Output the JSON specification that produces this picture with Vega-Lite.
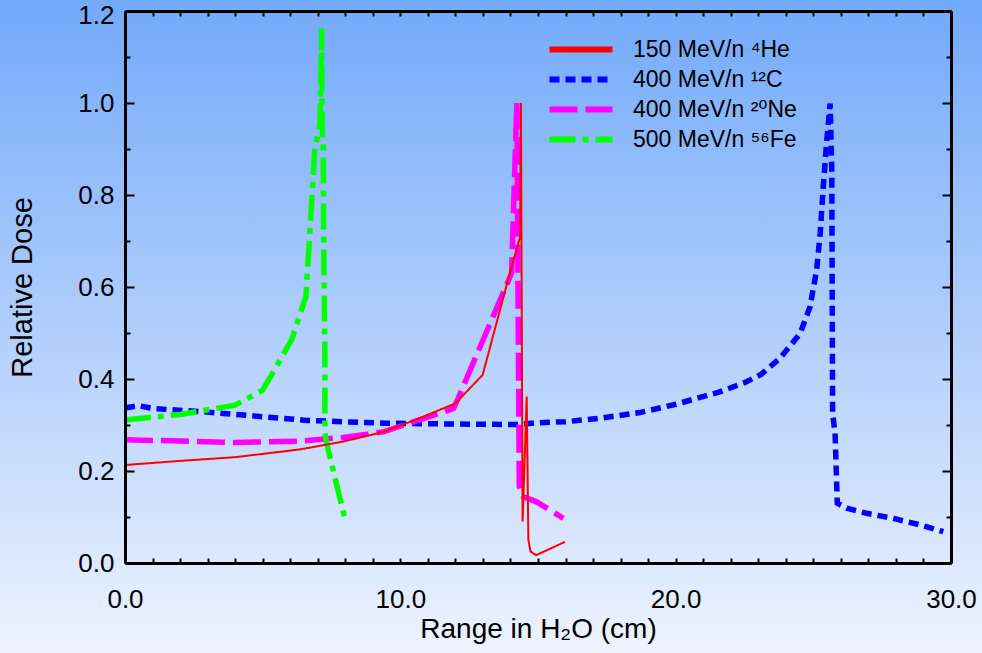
{
  "$schema": "https://vega.github.io/schema/vega-lite/v6.json",
  "width": 826,
  "height": 552,
  "autosize": {"type": "none"},
  "padding": {"left": 125, "top": 11, "right": 31, "bottom": 90},
  "background": "#eef3fe",
  "config": {
    "view": {"stroke": null},
    "font": "Liberation Sans",
    "axis": {
      "grid": false,
      "domainColor": "black",
      "domainWidth": 3,
      "tickColor": "black",
      "tickWidth": 2,
      "labelFont": "Liberation Sans",
      "labelFontSize": 26,
      "labelColor": "black",
      "titleFont": "Liberation Sans",
      "titleFontSize": 28,
      "titleFontWeight": "normal",
      "titleColor": "black"
    }
  },
  "datasets": {
    "doses": [
      {"ion": "150 MeV/n ⁴He", "i": 0, "x": 0, "y": 0.213},
      {"ion": "150 MeV/n ⁴He", "i": 1, "x": 2, "y": 0.222},
      {"ion": "150 MeV/n ⁴He", "i": 2, "x": 4, "y": 0.23},
      {"ion": "150 MeV/n ⁴He", "i": 3, "x": 6.36, "y": 0.247},
      {"ion": "150 MeV/n ⁴He", "i": 4, "x": 7.93, "y": 0.264},
      {"ion": "150 MeV/n ⁴He", "i": 5, "x": 9.38, "y": 0.285},
      {"ion": "150 MeV/n ⁴He", "i": 6, "x": 10.71, "y": 0.315},
      {"ion": "150 MeV/n ⁴He", "i": 7, "x": 12.0, "y": 0.347},
      {"ion": "150 MeV/n ⁴He", "i": 8, "x": 12.99, "y": 0.409},
      {"ion": "150 MeV/n ⁴He", "i": 9, "x": 14.04, "y": 0.644},
      {"ion": "150 MeV/n ⁴He", "i": 10, "x": 14.35, "y": 0.709},
      {"ion": "150 MeV/n ⁴He", "i": 11, "x": 14.38, "y": 1.0},
      {"ion": "150 MeV/n ⁴He", "i": 12, "x": 14.44, "y": 0.09},
      {"ion": "150 MeV/n ⁴He", "i": 13, "x": 14.59, "y": 0.362},
      {"ion": "150 MeV/n ⁴He", "i": 14, "x": 14.65, "y": 0.05},
      {"ion": "150 MeV/n ⁴He", "i": 15, "x": 14.73, "y": 0.025},
      {"ion": "150 MeV/n ⁴He", "i": 16, "x": 14.93, "y": 0.017},
      {"ion": "150 MeV/n ⁴He", "i": 17, "x": 15.98, "y": 0.046},

      {"ion": "400 MeV/n ¹²C", "i": 0, "x": 0, "y": 0.337},
      {"ion": "400 MeV/n ¹²C", "i": 1, "x": 0.5, "y": 0.342},
      {"ion": "400 MeV/n ¹²C", "i": 2, "x": 1, "y": 0.336},
      {"ion": "400 MeV/n ¹²C", "i": 3, "x": 3, "y": 0.328},
      {"ion": "400 MeV/n ¹²C", "i": 4, "x": 5, "y": 0.318},
      {"ion": "400 MeV/n ¹²C", "i": 5, "x": 6.6, "y": 0.31},
      {"ion": "400 MeV/n ¹²C", "i": 6, "x": 9.4, "y": 0.304},
      {"ion": "400 MeV/n ¹²C", "i": 7, "x": 12, "y": 0.302},
      {"ion": "400 MeV/n ¹²C", "i": 8, "x": 14.3, "y": 0.301},
      {"ion": "400 MeV/n ¹²C", "i": 9, "x": 15, "y": 0.305},
      {"ion": "400 MeV/n ¹²C", "i": 10, "x": 16, "y": 0.307},
      {"ion": "400 MeV/n ¹²C", "i": 11, "x": 17.3, "y": 0.315},
      {"ion": "400 MeV/n ¹²C", "i": 12, "x": 18.7, "y": 0.327},
      {"ion": "400 MeV/n ¹²C", "i": 13, "x": 20, "y": 0.345},
      {"ion": "400 MeV/n ¹²C", "i": 14, "x": 21.6, "y": 0.372},
      {"ion": "400 MeV/n ¹²C", "i": 15, "x": 22.5, "y": 0.392},
      {"ion": "400 MeV/n ¹²C", "i": 16, "x": 23.1, "y": 0.41},
      {"ion": "400 MeV/n ¹²C", "i": 17, "x": 23.79, "y": 0.445},
      {"ion": "400 MeV/n ¹²C", "i": 18, "x": 24.52, "y": 0.499},
      {"ion": "400 MeV/n ¹²C", "i": 19, "x": 24.88, "y": 0.557},
      {"ion": "400 MeV/n ¹²C", "i": 20, "x": 25.12, "y": 0.637},
      {"ion": "400 MeV/n ¹²C", "i": 21, "x": 25.25, "y": 0.717},
      {"ion": "400 MeV/n ¹²C", "i": 22, "x": 25.36, "y": 0.818},
      {"ion": "400 MeV/n ¹²C", "i": 23, "x": 25.49, "y": 0.92},
      {"ion": "400 MeV/n ¹²C", "i": 24, "x": 25.61, "y": 0.999},
      {"ion": "400 MeV/n ¹²C", "i": 25, "x": 25.67, "y": 0.854},
      {"ion": "400 MeV/n ¹²C", "i": 26, "x": 25.7, "y": 0.325},
      {"ion": "400 MeV/n ¹²C", "i": 27, "x": 25.79, "y": 0.282},
      {"ion": "400 MeV/n ¹²C", "i": 28, "x": 25.87, "y": 0.13},
      {"ion": "400 MeV/n ¹²C", "i": 29, "x": 26.21, "y": 0.119},
      {"ion": "400 MeV/n ¹²C", "i": 30, "x": 26.94, "y": 0.108},
      {"ion": "400 MeV/n ¹²C", "i": 31, "x": 27.9, "y": 0.097},
      {"ion": "400 MeV/n ¹²C", "i": 32, "x": 28.87, "y": 0.083},
      {"ion": "400 MeV/n ¹²C", "i": 33, "x": 29.72, "y": 0.068},

      {"ion": "400 MeV/n ²⁰Ne", "i": 0, "x": 0, "y": 0.268},
      {"ion": "400 MeV/n ²⁰Ne", "i": 1, "x": 2, "y": 0.265},
      {"ion": "400 MeV/n ²⁰Ne", "i": 2, "x": 4, "y": 0.262},
      {"ion": "400 MeV/n ²⁰Ne", "i": 3, "x": 6.36, "y": 0.265},
      {"ion": "400 MeV/n ²⁰Ne", "i": 4, "x": 7.93, "y": 0.273},
      {"ion": "400 MeV/n ²⁰Ne", "i": 5, "x": 9.38, "y": 0.285},
      {"ion": "400 MeV/n ²⁰Ne", "i": 6, "x": 10.59, "y": 0.309},
      {"ion": "400 MeV/n ²⁰Ne", "i": 7, "x": 11.93, "y": 0.336},
      {"ion": "400 MeV/n ²⁰Ne", "i": 8, "x": 12.1, "y": 0.358},
      {"ion": "400 MeV/n ²⁰Ne", "i": 9, "x": 14.04, "y": 0.63},
      {"ion": "400 MeV/n ²⁰Ne", "i": 10, "x": 14.23, "y": 1.0},
      {"ion": "400 MeV/n ²⁰Ne", "i": 11, "x": 14.32, "y": 0.166},
      {"ion": "400 MeV/n ²⁰Ne", "i": 12, "x": 14.47, "y": 0.144},
      {"ion": "400 MeV/n ²⁰Ne", "i": 13, "x": 14.95, "y": 0.133},
      {"ion": "400 MeV/n ²⁰Ne", "i": 14, "x": 15.92, "y": 0.097},

      {"ion": "500 MeV/n ⁵⁶Fe", "i": 0, "x": 0, "y": 0.311},
      {"ion": "500 MeV/n ⁵⁶Fe", "i": 1, "x": 2, "y": 0.323},
      {"ion": "500 MeV/n ⁵⁶Fe", "i": 2, "x": 4, "y": 0.343},
      {"ion": "500 MeV/n ⁵⁶Fe", "i": 3, "x": 5, "y": 0.376},
      {"ion": "500 MeV/n ⁵⁶Fe", "i": 4, "x": 5.63, "y": 0.441},
      {"ion": "500 MeV/n ⁵⁶Fe", "i": 5, "x": 6.05, "y": 0.485},
      {"ion": "500 MeV/n ⁵⁶Fe", "i": 6, "x": 6.57, "y": 0.579},
      {"ion": "500 MeV/n ⁵⁶Fe", "i": 7, "x": 6.74, "y": 0.746},
      {"ion": "500 MeV/n ⁵⁶Fe", "i": 8, "x": 6.9, "y": 0.905},
      {"ion": "500 MeV/n ⁵⁶Fe", "i": 9, "x": 7.0, "y": 0.93},
      {"ion": "500 MeV/n ⁵⁶Fe", "i": 10, "x": 7.08, "y": 0.956},
      {"ion": "500 MeV/n ⁵⁶Fe", "i": 11, "x": 7.14, "y": 1.162},
      {"ion": "500 MeV/n ⁵⁶Fe", "i": 12, "x": 7.16, "y": 0.95},
      {"ion": "500 MeV/n ⁵⁶Fe", "i": 13, "x": 7.2, "y": 0.905},
      {"ion": "500 MeV/n ⁵⁶Fe", "i": 14, "x": 7.22, "y": 0.674},
      {"ion": "500 MeV/n ⁵⁶Fe", "i": 15, "x": 7.26, "y": 0.456},
      {"ion": "500 MeV/n ⁵⁶Fe", "i": 16, "x": 7.26, "y": 0.282},
      {"ion": "500 MeV/n ⁵⁶Fe", "i": 17, "x": 7.38, "y": 0.246},
      {"ion": "500 MeV/n ⁵⁶Fe", "i": 18, "x": 7.99, "y": 0.095}
    ]
  },
  "resolve": {"axis": {"x": "independent", "y": "independent"}},
  "layer": [
    {
      "data": {"values": [{}]},
      "mark": {
        "type": "rect",
        "fill": {
          "gradient": "linear",
          "x1": 0, "y1": 0, "x2": 0, "y2": 1,
          "stops": [
            {"offset": 0, "color": "#72a9fa"},
            {"offset": 1, "color": "#eef3fe"}
          ]
        }
      },
      "encoding": {
        "x": {
          "datum": -4.55, "type": "quantitative",
          "scale": {"domain": [0, 30], "nice": false, "zero": false},
          "axis": {
            "orient": "top", "title": null, "labels": false, "zindex": 2,
            "values": [0,1,2,3,4,5,6,7,8,9,10,11,12,13,14,15,16,17,18,19,20,21,22,23,24,25,26,27,28,29,30],
            "tickSize": -5
          }
        },
        "x2": {"datum": 31.14},
        "y": {
          "datum": -0.197, "type": "quantitative",
          "scale": {"domain": [0, 1.2], "nice": false, "zero": false},
          "axis": {
            "orient": "right", "title": null, "labels": false, "zindex": 2,
            "values": [0,0.1,0.2,0.3,0.4,0.5,0.6,0.7,0.8,0.9,1.0,1.1,1.2],
            "tickSize": {"condition": {"test": "round(datum.value*10)%2===0", "value": -9}, "value": -5}
          }
        },
        "y2": {"datum": 1.225}
      }
    },
    {
      "data": {"name": "doses"},
      "transform": [{"filter": "datum.ion !== '150 MeV/n ⁴He'"}],
      "mark": {"type": "line", "strokeCap": "butt", "strokeWidth": 5.5},
      "encoding": {
        "x": {
          "field": "x", "type": "quantitative",
          "scale": {"domain": [0, 30], "nice": false, "zero": false},
          "axis": null
        },
        "y": {
          "field": "y", "type": "quantitative",
          "scale": {"domain": [0, 1.2], "nice": false, "zero": false},
          "axis": null
        },
        "color": {
          "field": "ion", "type": "nominal",
          "scale": {
            "domain": ["150 MeV/n ⁴He", "400 MeV/n ¹²C", "400 MeV/n ²⁰Ne", "500 MeV/n ⁵⁶Fe"],
            "range": ["#ff0000", "#0000ff", "#ff00ff", "#00ff00"]
          }
        },
        "strokeDash": {
          "field": "ion", "type": "nominal",
          "scale": {
            "domain": ["150 MeV/n ⁴He", "400 MeV/n ¹²C", "400 MeV/n ²⁰Ne", "500 MeV/n ⁵⁶Fe"],
            "range": [[1, 0], [10, 6], [28, 8], [26, 7, 6, 7]]
          }
        },
        "order": {"field": "i", "type": "quantitative"}
      }
    },
    {
      "data": {"name": "doses"},
      "transform": [{"filter": "datum.ion === '150 MeV/n ⁴He'"}],
      "mark": {"type": "line", "strokeCap": "butt", "strokeWidth": 2},
      "encoding": {
        "x": {
          "field": "x", "type": "quantitative",
          "scale": {"domain": [0, 30], "nice": false, "zero": false},
          "axis": {
            "orient": "bottom",
            "zindex": 2,
            "title": "Range in H₂O (cm)",
            "values": [0,1,2,3,4,5,6,7,8,9,10,11,12,13,14,15,16,17,18,19,20,21,22,23,24,25,26,27,28,29,30],
            "labelExpr": "datum.value % 10 === 0 ? format(datum.value, '.1f') : ''",
            "tickSize": -5,
            "labelPadding": 28,
            "labelFlush": false,
            "labelOverlap": false,
            "titlePadding": 3
          }
        },
        "y": {
          "field": "y", "type": "quantitative",
          "scale": {"domain": [0, 1.2], "nice": false, "zero": false},
          "axis": {
            "orient": "left",
            "zindex": 2,
            "title": "Relative Dose",
            "titleFontSize": 29,
            "values": [0,0.1,0.2,0.3,0.4,0.5,0.6,0.7,0.8,0.9,1.0,1.1,1.2],
            "labelExpr": "round(datum.value*10)%2===0 ? format(datum.value, '.1f') : ''",
            "labelOffset": {"condition": {"test": "datum.value > 1.15", "value": 4}, "value": 0},
            "tickSize": {"condition": {"test": "round(datum.value*10)%2===0", "value": -9}, "value": -5},
            "labelPadding": 20,
            "labelOverlap": false,
            "titlePadding": 40
          }
        },
        "color": {
          "field": "ion", "type": "nominal",
          "scale": {
            "domain": ["150 MeV/n ⁴He", "400 MeV/n ¹²C", "400 MeV/n ²⁰Ne", "500 MeV/n ⁵⁶Fe"],
            "range": ["#ff0000", "#0000ff", "#ff00ff", "#00ff00"]
          },
          "legend": {
            "orient": "none",
            "legendX": 413,
            "legendY": 27,
            "title": null,
            "symbolType": "M0,0H12.6",
            "symbolSize": 100,
            "symbolStrokeWidth": 6,
            "labelFont": "Liberation Sans, DejaVu Sans",
            "labelFontSize": 23,
            "labelColor": "black",
            "labelLimit": 400,
            "labelOffset": 72,
            "rowPadding": 5,
            "padding": 0,
            "zindex": 2
          }
        },
        "strokeDash": {
          "field": "ion", "type": "nominal",
          "scale": {
            "domain": ["150 MeV/n ⁴He", "400 MeV/n ¹²C", "400 MeV/n ²⁰Ne", "500 MeV/n ⁵⁶Fe"],
            "range": [[1, 0], [10, 6], [28, 8], [26, 7, 6, 7]]
          }
        },
        "order": {"field": "i", "type": "quantitative"}
      }
    }
  ]
}
